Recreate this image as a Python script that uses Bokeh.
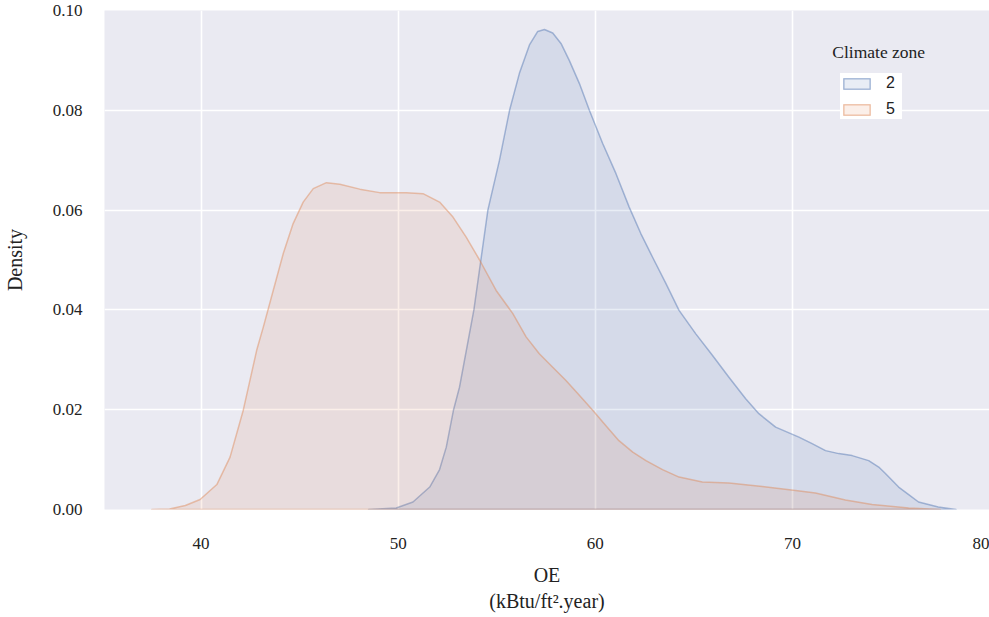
from bokeh.plotting import figure
from bokeh.models import (Range1d, FixedTicker, PrintfTickFormatter, Legend,
                          LegendItem, Label)
from bokeh.embed import file_html
from bokeh.resources import INLINE

# ---- data ----
zones = ["2", "5"]
colors = ["#4C72B0", "#DD8452"]

oe_zone2 = [48.5, 49.9, 50.75, 51.6, 52.1, 52.44, 52.81, 53.11, 53.84, 54.55, 55.14,
            55.65, 56.15, 56.66, 57.08, 57.42, 57.84, 58.26, 58.68, 59.19, 59.7,
            60.37, 61.05, 61.72, 62.31, 62.9, 63.58, 64.25, 65.1, 65.94, 66.78,
            67.63, 68.3, 69.15, 70.33, 71.0, 71.68, 72.35, 73.03, 73.87, 74.38,
            74.72, 75.39, 75.9, 76.4, 77.4, 78.3]
dens_zone2 = [0.0, 0.0003, 0.0015, 0.0045, 0.008, 0.0125, 0.02, 0.0245, 0.04, 0.06,
              0.070, 0.080, 0.0874, 0.0931, 0.0958, 0.0962, 0.0955, 0.0934, 0.090,
              0.0854, 0.080, 0.0734, 0.0673, 0.0606, 0.0553, 0.0506, 0.0453, 0.0399,
              0.0352, 0.0309, 0.0265, 0.0222, 0.0192, 0.0165, 0.0145, 0.0132, 0.0118,
              0.0112, 0.0108, 0.0098, 0.0085, 0.0072, 0.0045, 0.003, 0.0015, 0.0005,
              0.0]

oe_zone5 = [37.5, 38.4, 39.2, 39.95, 40.8, 41.47, 42.14, 42.82, 43.16, 43.66, 44.17,
            44.67, 45.18, 45.69, 46.36, 47.04, 48.05, 49.06, 50.42, 51.26, 52.1,
            52.78, 53.45, 54.13, 54.97, 55.81, 56.49, 57.16, 57.84, 58.5, 59.19,
            59.87, 60.54, 61.2, 61.9, 62.57, 63.41, 64.25, 65.43, 66.78, 68.47,
            70.16, 71.17, 72.69, 74.04, 75.9, 77.5]
dens_zone5 = [0.0, 0.0001, 0.0008, 0.002, 0.005, 0.0105, 0.0199, 0.0319, 0.0366,
              0.0439, 0.0513, 0.0573, 0.0616, 0.0643, 0.0655, 0.0652, 0.0642, 0.0635,
              0.0635, 0.0633, 0.0616, 0.0586, 0.0546, 0.050, 0.0439, 0.0393, 0.0346,
              0.0312, 0.0285, 0.0259, 0.0229, 0.0199, 0.0168, 0.0138, 0.0115, 0.0098,
              0.008, 0.0065, 0.0055, 0.0053, 0.0046, 0.0038, 0.0033, 0.0019, 0.001,
              0.0003, 0.0]

x_ticks = [40, 50, 60, 70, 80]
y_ticks = [0.0, 0.02, 0.04, 0.06, 0.08, 0.10]

SERIF = "Liberation Serif"
SANS = "Liberation Sans"

p = figure(width=989, height=617, output_backend="svg", toolbar_location=None,
           x_range=Range1d(35.1, 80.0), y_range=Range1d(0, 0.1),
           min_border_left=104, min_border_right=0, min_border_top=10,
           min_border_bottom=108)

p.background_fill_color = "#EAEAF2"
p.border_fill_color = "white"
p.outline_line_color = None

for ax in (p.xaxis[0], p.yaxis[0]):
    ax.axis_line_color = None
    ax.major_tick_line_color = None
    ax.minor_tick_line_color = None
    ax.major_label_text_font = SERIF
    ax.major_label_text_font_size = "17px"
    ax.major_label_text_color = "#222222"
    ax.axis_label_text_font = SERIF
    ax.axis_label_text_font_size = "20px"
    ax.axis_label_text_font_style = "normal"
    ax.axis_label_text_color = "#222222"

p.xaxis.ticker = FixedTicker(ticks=x_ticks)
p.yaxis.ticker = FixedTicker(ticks=y_ticks)
p.yaxis.formatter = PrintfTickFormatter(format="%.2f")
p.xaxis.major_label_standoff = 22
p.yaxis.major_label_standoff = 16
p.xaxis.axis_label = "OE\n(kBtu/ft\u00b2.year)"
p.yaxis.axis_label = "Density"
p.xaxis.axis_label_standoff = 12
p.yaxis.axis_label_standoff = 24

p.grid.grid_line_color = "white"
p.grid.grid_line_width = 1.6
p.xgrid.ticker = FixedTicker(ticks=x_ticks)
p.ygrid.ticker = FixedTicker(ticks=y_ticks)

items = []
for zone, col, xs, ds in [(zones[0], colors[0], oe_zone2, dens_zone2),
                          (zones[1], colors[1], oe_zone5, dens_zone5)]:
    px = list(xs) + [xs[-1], xs[0]]
    py = list(ds) + [0.0, 0.0]
    r = p.patch(px, py, fill_color=col, fill_alpha=0.13,
                line_color=col, line_alpha=0.45, line_width=1.5,
                line_join="round")
    items.append(LegendItem(label=zone, renderers=[r]))

legend = Legend(items=items, location=(736, 390), orientation="vertical",
                background_fill_color="white", background_fill_alpha=1.0,
                border_line_color=None, padding=10, spacing=6, margin=0,
                glyph_width=33, glyph_height=13, label_standoff=13,
                label_width=16, label_height=20,
                label_text_font=SANS, label_text_font_size="16px",
                label_text_color="#222222")
p.add_layout(legend, "center")

title = Label(x=74.38, y=0.0917, text="Climate zone", text_font=SERIF,
              text_font_size="17.5px", text_align="center",
              text_baseline="middle", text_color="#222222")
p.add_layout(title)

open("out.html", "w").write(file_html(p, INLINE))
